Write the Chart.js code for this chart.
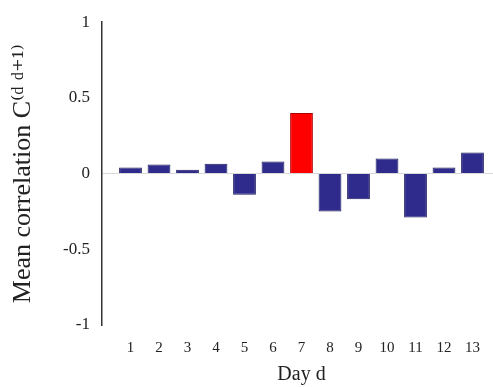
<!DOCTYPE html>
<html>
<head>
<meta charset="utf-8">
<script src="https://cdn.jsdelivr.net/npm/chart.js@4"></script>
<style>
  html, body { margin: 0; padding: 0; background: #fff; overflow: hidden; }
  #wrap { width: 501px; height: 387px; }
</style>
</head>
<body>
<div id="wrap"><canvas id="chart" width="501" height="387"></canvas></div>
<script>
// === DATA ===
const days = [1, 2, 3, 4, 5, 6, 7, 8, 9, 10, 11, 12, 13];
const meanCorr = [0.04, 0.06, 0.025, 0.065, -0.14, 0.08, 0.40, -0.25, -0.17, 0.10, -0.29, 0.04, 0.14];
const highlightDay = 7;
const yTicks = [-1, -0.5, 0, 0.5, 1];

const serif = "'Liberation Serif', 'DejaVu Serif', serif";
const blue = "#2f2b8c", blueEdge = "#1c1a5e";
const red = "#ff0000", redEdge = "#b00000";

new Chart(document.getElementById("chart"), {
  type: "bar",
  data: {
    datasets: [{
      data: days.map((d, i) => ({ x: d, y: meanCorr[i] })),
      backgroundColor: days.map(d => d === highlightDay ? red : blue),
      borderColor: days.map(d => d === highlightDay ? redEdge : blueEdge),
      borderWidth: 1,
      barPercentage: 0.8,
      categoryPercentage: 1.0
    }]
  },
  options: {
    responsive: false,
    animation: false,
    layout: { padding: { top: 22, left: 8, right: 0, bottom: 0 } },
    plugins: { legend: { display: false }, tooltip: { enabled: false } },
    scales: {
      x: {
        type: "linear",
        offset: false,
        min: 0, max: 14,
        afterBuildTicks: s => { s.ticks = days.map(v => ({ value: v })); },
        afterFit: s => { s.height = 62; },
        ticks: { color: "#222", font: { family: serif, size: 15 }, padding: 6, maxRotation: 0 },
        grid: { display: false },
        border: { display: false },
        title: { display: true, text: "Day d", color: "#222", font: { family: serif, size: 20 }, padding: { top: 0, bottom: 0 } }
      },
      y: {
        min: -1, max: 1,
        afterBuildTicks: s => { s.ticks = yTicks.map(v => ({ value: v })); },
        afterFit: s => { s.width = 94; },
        ticks: { color: "#222", font: { family: serif, size: 17 }, padding: 12, callback: v => String(v) },
        grid: {
          drawTicks: false,
          color: ctx => ctx.tick && ctx.tick.value === 0 ? "#d8d8d8" : "rgba(0,0,0,0)",
          lineWidth: 1
        },
        border: { display: true, color: "#333", width: 1.5 },
        title: { display: true, text: "Mean correlation C⁽ᵈ ᵈ⁺¹⁾", color: "#222", font: { family: serif, size: 26 }, padding: { top: 0, bottom: 2 } }
      }
    }
  }
});
</script>
</body>
</html>
